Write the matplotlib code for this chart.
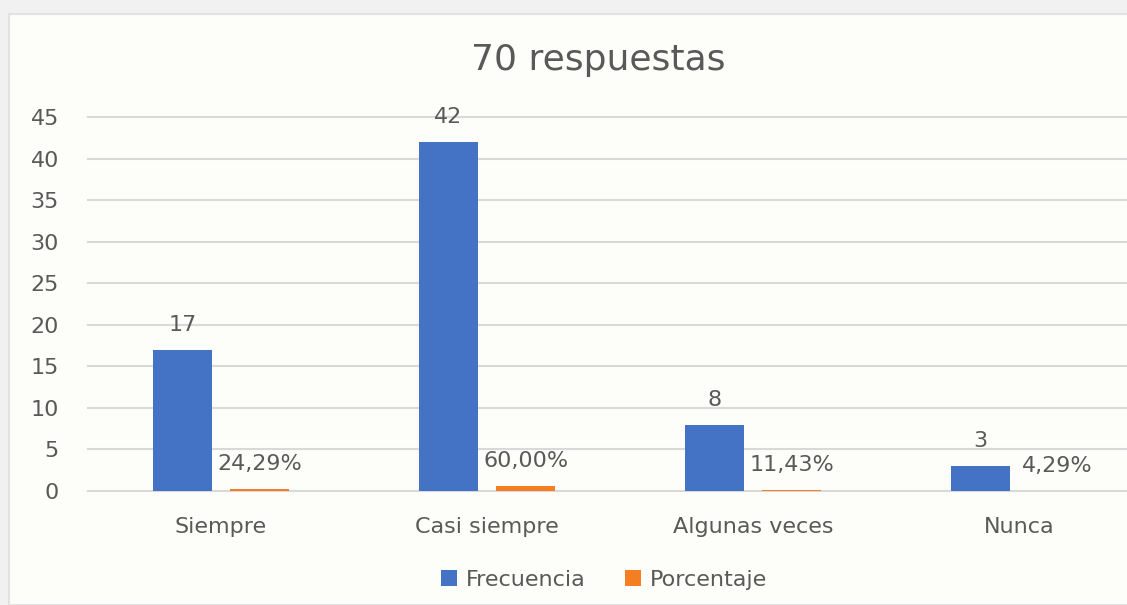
import matplotlib.pyplot as plt
import matplotlib.patches as mpatches
import numpy as np

categorias = ["Siempre", "Casi siempre", "Algunas veces", "Nunca"]
frecuencia = [17, 42, 8, 3]
porcentaje = [0.2429, 0.6000, 0.1143, 0.0429]
porcentaje_txt = ["24,29%", "60,00%", "11,43%", "4,29%"]

azul = "#4472C4"
naranja = "#F57D22"
gris_txt = "#595959"

W, H = 1127, 605
fig = plt.figure(figsize=(W / 100, H / 100), dpi=100)
fig.patch.set_facecolor("#F1F1F1")

# fondo del area del grafico
fondo = mpatches.Rectangle((9 / W, 0), 1.2, 1 - 14 / H, transform=fig.transFigure,
                           facecolor="#FDFDF9", edgecolor="#E2E2E2", linewidth=1.5, zorder=-5)
fig.patches.append(fondo)

ax = fig.add_axes([88 / W, (H - 491) / H, 1064 / W, 374 / H])
ax.set_facecolor("none")
ax.set_zorder(2)

x = np.arange(len(categorias))
ancho = 0.224
off = 0.145
b1 = ax.bar(x - off, frecuencia, ancho, color=azul, label="Frecuencia", zorder=3)
b2 = ax.bar(x + off, porcentaje, ancho, color=naranja, label="Porcentaje", zorder=3)

for rect, v in zip(b1, frecuencia):
    ax.annotate(str(v), (rect.get_x() + rect.get_width() / 2, rect.get_height()),
                xytext=(0, 19), textcoords="offset pixels", ha="center", va="baseline",
                fontsize=16, color=gris_txt)
for rect, t in zip(b2, porcentaje_txt):
    ax.annotate(t, (rect.get_x() + rect.get_width() / 2, rect.get_height()),
                xytext=(0, 19), textcoords="offset pixels", ha="center", va="baseline",
                fontsize=16, color=gris_txt)

ax.set_xlim(-0.5, 3.5)
ax.set_ylim(0, 45)
ax.set_yticks(range(0, 46, 5))
ax.set_xticks(x)
ax.set_xticklabels(categorias)
ax.tick_params(axis="both", length=0, labelsize=16, labelcolor=gris_txt)
ax.tick_params(axis="x", pad=19)
ax.tick_params(axis="y", pad=21)
ax.grid(axis="y", color="#D9D9D9", linewidth=1.5, zorder=0)
for gl in ax.get_ygridlines():
    gl.set_clip_on(False)
for s in ax.spines.values():
    s.set_visible(False)

fig.text(598 / W, 1 - 60 / H, "70 respuestas", ha="center", va="center",
         fontsize=26, color=gris_txt)

fig.legend(handles=[b1, b2], loc="center", bbox_to_anchor=(604 / W, 1 - 580 / H),
           ncol=2, frameon=False, fontsize=16, labelcolor=gris_txt,
           handlelength=0.7, handleheight=0.7, handletextpad=0.4, columnspacing=1.8)

plt.savefig("out.png", dpi=100, facecolor=fig.get_facecolor())
